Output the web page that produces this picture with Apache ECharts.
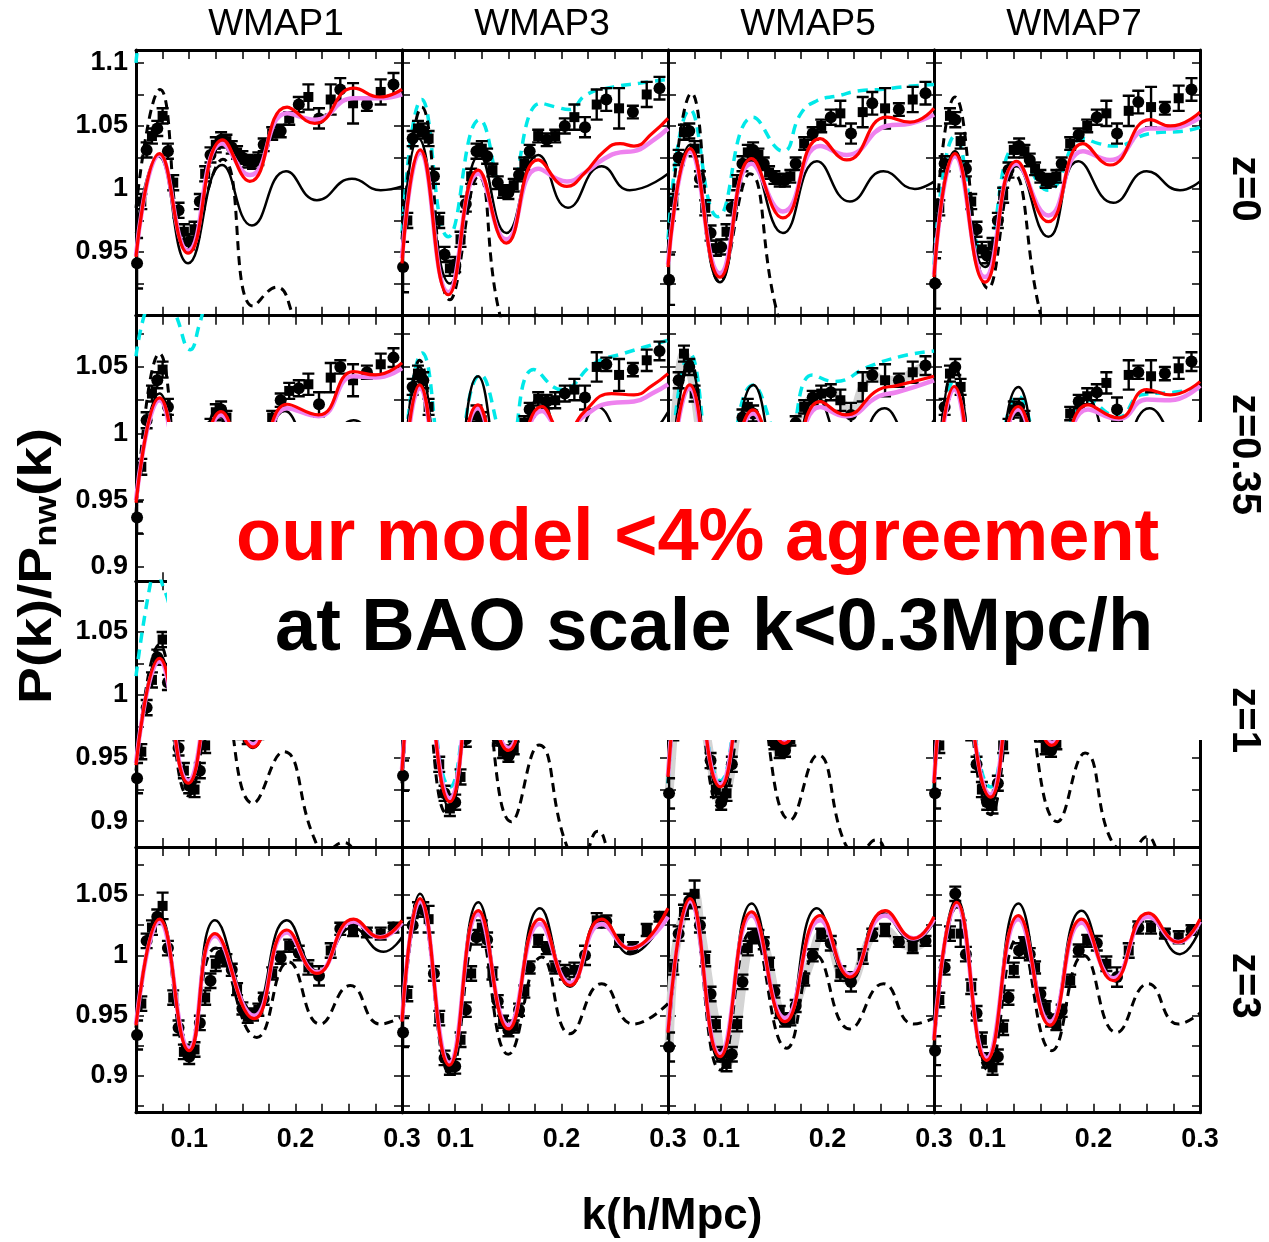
<!DOCTYPE html>
<html><head><meta charset="utf-8">
<script src="https://cdn.jsdelivr.net/npm/echarts@6/dist/echarts.min.js"></script>
<style>html,body{margin:0;padding:0;background:#fff}#c{width:1269px;height:1242px}</style>
</head><body><div id="c"></div><script>
const FONT = '"Liberation Sans", Arial, Helvetica, sans-serif';
const COLS = ['WMAP1','WMAP3','WMAP5','WMAP7'];
const ROWS = ['z=0','z=0.35','z=1','z=3'];
const Y_MIN = [0.8994,0.889,0.8794,0.8696];
const Y_MAX = [1.1103,1.0885,1.0902,1.0898];
const Y_TICKS = [
 [0.9,0.925,0.95,0.975,1,1.025,1.05,1.075,1.1],
 [0.9,0.925,0.95,0.975,1,1.025,1.05,1.075],
 [0.9,0.925,0.95,0.975,1,1.025,1.05,1.075],
 [0.875,0.9,0.925,0.95,0.975,1,1.025,1.05,1.075]];
const Y_LABELS = [[0.95,1,1.05,1.1],[0.9,0.95,1,1.05],[0.9,0.95,1,1.05],[0.9,0.95,1,1.05]];
const X_TICKS = [0.05,0.075,0.1,0.125,0.15,0.175,0.2,0.225,0.25,0.275,0.3];
const X_LABELS = [0.1,0.2,0.3];

// k of the simulation points (shared by all panels)
const K_PTS = [0.051,0.055,0.06,0.065,0.07,0.075,0.08,0.085,0.09,0.095,0.1,0.105,0.11,0.115,0.12,0.125,0.13,0.135,0.14,0.145,0.15,0.155,0.16,0.165,0.17,0.178,0.186,0.194,0.203,0.212,0.222,0.233,0.242,0.254,0.267,0.28,0.292];
// error bar half sizes per row
const ERR_R1 = [0.02,0.006,0.006,0.006,0.006,0.006,0.006,0.006,0.006,0.006,0.006,0.006,0.006,0.006,0.006,0.006,0.006,0.005,0.005,0.005,0.005,0.005,0.005,0.005,0.005,0.005,0.005,0.005,0.006,0.01,0.008,0.012,0.009,0.016,0.005,0.01,0.009];
const ERR_R2 = [0.012,0.006,0.006,0.006,0.006,0.006,0.006,0.006,0.006,0.006,0.006,0.006,0.006,0.006,0.006,0.006,0.006,0.005,0.005,0.005,0.005,0.005,0.005,0.005,0.005,0.005,0.005,0.006,0.006,0.008,0.009,0.011,0.005,0.012,0.005,0.008,0.007];
const ERR_R3 = [0.012,0.006,0.006,0.006,0.006,0.006,0.006,0.006,0.006,0.006,0.006,0.006,0.006,0.006,0.006,0.006,0.006,0.005,0.005,0.005,0.005,0.005,0.005,0.005,0.005,0.005,0.005,0.005,0.006,0.006,0.007,0.006,0.005,0.008,0.005,0.006,0.006];
const ERR_R4 = [0.012,0.006,0.006,0.006,0.006,0.011,0.006,0.006,0.006,0.006,0.006,0.006,0.006,0.006,0.006,0.006,0.006,0.005,0.005,0.005,0.005,0.005,0.005,0.005,0.005,0.005,0.005,0.005,0.006,0.006,0.008,0.006,0.005,0.005,0.004,0.005,0.004];

// simulation points P(k)/Pnw(k)
const PTS_11 = [0.941,0.99,1.031,1.042,1.048,1.058,1.03,1.005,0.983,0.966,0.958,0.968,0.99,1.012,1.027,1.035,1.039,1.038,1.033,1.029,1.025,1.022,1.021,1.024,1.035,1.044,1.046,1.056,1.067,1.073,1.056,1.071,1.079,1.068,1.067,1.077,1.083];
const PTS_12 = [0.938,0.975,1.04,1.048,1.046,1.04,1.01,0.975,0.948,0.937,0.94,0.96,0.988,1.01,1.03,1.032,1.026,1.015,1.005,0.998,0.997,1.003,1.011,1.02,1.03,1.042,1.039,1.042,1.05,1.057,1.049,1.067,1.071,1.064,1.061,1.075,1.08];
const PTS_13 = [0.928,0.99,1.025,1.045,1.046,1.032,1.008,0.985,0.965,0.953,0.954,0.966,0.985,1.005,1.02,1.029,1.031,1.027,1.02,1.013,1.009,1.007,1.007,1.01,1.02,1.036,1.044,1.05,1.057,1.06,1.044,1.061,1.068,1.064,1.063,1.071,1.076];
const PTS_14 = [0.925,0.985,1.02,1.058,1.055,1.038,1.016,0.99,0.968,0.952,0.947,0.955,0.975,0.995,1.015,1.031,1.034,1.03,1.023,1.016,1.01,1.006,1.007,1.01,1.02,1.036,1.043,1.05,1.057,1.06,1.044,1.062,1.069,1.065,1.064,1.072,1.079];
const PTS_21 = [0.937,0.975,1.01,1.03,1.04,1.048,1.02,0.99,0.96,0.94,0.932,0.94,0.96,0.985,1.005,1.016,1.018,1.012,1.0,0.99,0.982,0.978,0.98,0.99,1.002,1.012,1.025,1.032,1.034,1.037,1.022,1.042,1.05,1.04,1.046,1.052,1.057];
const PTS_22 = [0.936,0.98,1.035,1.045,1.04,1.02,0.99,0.955,0.93,0.922,0.93,0.955,0.98,1.005,1.015,1.01,0.995,0.98,0.97,0.965,0.97,0.98,0.995,1.008,1.018,1.026,1.024,1.025,1.03,1.033,1.027,1.05,1.052,1.044,1.048,1.055,1.062];
const PTS_23 = [0.925,0.99,1.04,1.06,1.05,1.03,1.0,0.965,0.94,0.93,0.928,0.945,0.97,0.995,1.012,1.02,1.015,1.0,0.985,0.975,0.97,0.972,0.982,0.995,1.008,1.02,1.027,1.03,1.031,1.025,1.014,1.035,1.044,1.04,1.04,1.046,1.051];
const PTS_24 = [0.92,0.975,1.02,1.045,1.05,1.035,1.0,0.965,0.935,0.92,0.915,0.93,0.955,0.985,1.005,1.018,1.02,1.012,1.0,0.99,0.98,0.975,0.978,0.988,1.0,1.015,1.024,1.028,1.031,1.038,1.018,1.044,1.046,1.043,1.045,1.049,1.054];
const PTS_31 = [0.934,0.955,0.99,1.012,1.03,1.044,1.01,0.975,0.958,0.94,0.928,0.925,0.94,0.96,0.98,1.0,1.012,1.01,1.0,0.985,0.97,0.966,0.966,0.97,0.985,1.0,1.012,1.02,1.02,1.012,1.005,1.02,1.035,1.035,1.03,1.035,1.04];
const PTS_32 = [0.936,0.975,1.02,1.04,1.035,1.01,0.975,0.945,0.922,0.91,0.915,0.935,0.965,0.995,1.015,1.02,1.005,0.985,0.965,0.955,0.952,0.958,0.972,0.99,1.005,1.02,1.015,1.0,0.992,0.995,1.005,1.025,1.03,1.02,1.015,1.025,1.035];
const PTS_33 = [0.922,0.97,1.02,1.045,1.05,1.035,1.005,0.975,0.948,0.925,0.915,0.922,0.945,0.975,1.0,1.02,1.025,1.015,0.995,0.975,0.962,0.955,0.956,0.965,0.985,1.005,1.02,1.025,1.015,1.0,0.998,1.015,1.03,1.035,1.025,1.025,1.035];
const PTS_34 = [0.922,0.96,1.0,1.035,1.05,1.03,1.0,0.97,0.945,0.925,0.915,0.912,0.93,0.96,0.99,1.012,1.025,1.02,1.005,0.985,0.968,0.958,0.956,0.962,0.978,1.0,1.018,1.025,1.02,1.005,0.998,1.015,1.03,1.035,1.028,1.03,1.035];
const PTS_41 = [0.934,0.96,1.012,1.023,1.032,1.041,1.006,0.965,0.94,0.92,0.916,0.922,0.944,0.965,0.979,0.993,1.0,0.996,0.988,0.972,0.956,0.949,0.951,0.955,0.964,0.985,0.998,1.008,1.002,0.99,0.983,1.004,1.022,1.021,1.019,1.018,1.023];
const PTS_42 = [0.936,0.968,1.025,1.038,1.038,1.03,0.985,0.948,0.915,0.907,0.908,0.93,0.955,0.985,1.015,1.023,1.013,0.985,0.962,0.945,0.938,0.941,0.955,0.97,0.99,1.012,1.006,0.99,0.986,0.988,1.0,1.029,1.028,1.012,1.007,1.021,1.032];
const PTS_43 = [0.924,0.99,1.018,1.036,1.045,1.051,1.025,0.997,0.968,0.943,0.918,0.91,0.918,0.943,0.978,1.006,1.016,1.016,1.01,0.993,0.97,0.953,0.946,0.947,0.958,0.98,1.0,1.017,1.01,0.985,0.978,0.999,1.017,1.021,1.011,1.007,1.012];
const PTS_44 = [0.921,0.963,0.99,1.018,1.051,1.018,1.001,0.974,0.952,0.93,0.913,0.907,0.916,0.94,0.965,0.988,1.004,1.01,1.001,0.99,0.968,0.957,0.946,0.943,0.954,0.979,1.004,1.012,1.01,0.993,0.982,1.004,1.023,1.023,1.018,1.015,1.021];

// model curves [k, P/Pnw]
const RED_11 = [[0.05,0.946],[0.072,1.028],[0.099,0.949],[0.1316,1.039],[0.157,1.006],[0.192,1.065],[0.218,1.052],[0.2545,1.08],[0.279,1.073],[0.3,1.079]];
const MAG_11 = [[0.05,0.947],[0.072,1.027],[0.099,0.951],[0.131,1.036],[0.157,1.011],[0.192,1.06],[0.218,1.055],[0.2545,1.072],[0.279,1.072],[0.3,1.075]];
const BLK_11 = [[0.05,0.965],[0.071,1.026],[0.099,0.941],[0.131,1.019],[0.159,0.971],[0.191,1.014],[0.22,0.991],[0.253,1.008],[0.28,0.999],[0.3,1.002]];
const DSH_11 = [[0.05,0.985],[0.0726,1.079],[0.098,0.955],[0.1316,1.0235],[0.16,0.907],[0.182,0.922],[0.2,0.895],[0.22,0.86],[0.26,0.85],[0.3,0.84]];
const CYN_11 = [[0.05,1.1],[0.056,1.13],[0.07,1.16],[0.1,1.14],[0.13,1.17],[0.16,1.15],[0.2,1.17],[0.25,1.18],[0.3,1.18]];

const RED_12 = [[0.05,0.941],[0.067,1.031],[0.0935,0.916],[0.1217,1.015],[0.148,0.957],[0.178,1.023],[0.205,1.002],[0.222,1.013],[0.24,1.03],[0.255,1.036],[0.268,1.034],[0.285,1.044],[0.3,1.056]];
const MAG_12 = [[0.05,0.945],[0.067,1.029],[0.0935,0.918],[0.1217,1.012],[0.148,0.96],[0.178,1.016],[0.205,1.006],[0.222,1.013],[0.24,1.024],[0.255,1.029],[0.268,1.03],[0.285,1.038],[0.3,1.048]];
const BLK_12 = [[0.05,0.95],[0.0654,1.04],[0.095,0.925],[0.123,1.027],[0.148,0.965],[0.178,1.027],[0.206,0.985],[0.2376,1.018],[0.264,0.999],[0.3,1.012]];
const DSH_12 = [[0.05,0.96],[0.0685,1.065],[0.095,0.912],[0.1217,1.01],[0.142,0.9],[0.16,0.875],[0.176,0.9],[0.195,0.87],[0.23,0.85],[0.3,0.84]];
const CYN_12 = [[0.05,0.965],[0.0685,1.071],[0.0935,0.962],[0.123,1.055],[0.148,0.994],[0.18,1.068],[0.195,1.065],[0.207,1.063],[0.2235,1.075],[0.249,1.081],[0.274,1.084],[0.3,1.087]];

const RED_13 = [[0.05,0.938],[0.0707,1.032],[0.0989,0.93],[0.1286,1.024],[0.158,0.977],[0.193,1.04],[0.218,1.023],[0.2555,1.057],[0.2775,1.053],[0.3,1.064]];
const MAG_13 = [[0.05,0.94],[0.0707,1.03],[0.0989,0.933],[0.1286,1.02],[0.158,0.982],[0.193,1.034],[0.218,1.027],[0.2555,1.05],[0.278,1.052],[0.3,1.059]];
const BLK_13 = [[0.05,0.94],[0.0707,1.035],[0.0989,0.926],[0.1286,1.022],[0.158,0.965],[0.19,1.022],[0.221,0.99],[0.2525,1.014],[0.282,1.0],[0.3,1.006]];
const DSH_13 = [[0.05,0.95],[0.072,1.076],[0.0989,0.926],[0.127,1.012],[0.152,0.904],[0.17,0.87],[0.2,0.85],[0.3,0.84]];
const CYN_13 = [[0.05,0.96],[0.0707,1.063],[0.097,0.978],[0.13,1.057],[0.158,1.03],[0.175,1.06],[0.19,1.07],[0.21,1.074],[0.23,1.078],[0.25,1.079],[0.27,1.081],[0.3,1.083]];

const RED_14 = [[0.05,0.93],[0.0697,1.028],[0.098,0.926],[0.1277,1.022],[0.1575,0.974],[0.19,1.036],[0.2154,1.019],[0.253,1.055],[0.272,1.05],[0.3,1.061]];
const MAG_14 = [[0.05,0.932],[0.0697,1.026],[0.098,0.93],[0.1277,1.02],[0.1575,0.979],[0.19,1.03],[0.2154,1.023],[0.253,1.048],[0.272,1.048],[0.3,1.057]];
const BLK_14 = [[0.05,0.93],[0.0697,1.03],[0.098,0.938],[0.1277,1.018],[0.1575,0.962],[0.1856,1.022],[0.2185,0.989],[0.2499,1.014],[0.2812,0.999],[0.3,1.006]];
const DSH_14 = [[0.05,0.95],[0.0697,1.073],[0.101,0.921],[0.1246,1.012],[0.15,0.901],[0.165,0.87],[0.2,0.85],[0.3,0.84]];
const CYN_14 = [[0.05,0.94],[0.0697,1.042],[0.098,0.946],[0.1277,1.034],[0.1575,0.999],[0.19,1.04],[0.205,1.036],[0.22,1.034],[0.253,1.044],[0.285,1.046],[0.3,1.049]];

const RED_21 = [[0.05,0.948],[0.072,1.0267],[0.1,0.935],[0.13,1.0165],[0.16,0.96],[0.192,1.022],[0.2216,1.014],[0.2545,1.0465],[0.275,1.044],[0.3,1.053]];
const MAG_21 = [[0.05,0.95],[0.072,1.025],[0.1,0.937],[0.13,1.014],[0.16,0.962],[0.192,1.019],[0.2216,1.013],[0.2545,1.043],[0.275,1.042],[0.3,1.049]];
const BLK_21 = [[0.05,0.95],[0.072,1.03],[0.1,0.93],[0.128,1.02],[0.16,0.955],[0.19,1.017],[0.222,0.98],[0.2545,1.01],[0.285,0.99],[0.3,0.995]];
const DSH_21 = [[0.05,0.94],[0.072,1.06],[0.1,0.93],[0.128,1.0],[0.16,0.9],[0.19,0.93],[0.22,0.87],[0.3,0.85]];
const CYN_21 = [[0.05,1.058],[0.0575,1.088],[0.072,1.12],[0.088,1.088],[0.101,1.063],[0.11,1.083],[0.125,1.12],[0.16,1.1],[0.2,1.12],[0.3,1.13]];

const RED_22 = [[0.05,0.945],[0.0665,1.0365],[0.094,0.918],[0.1214,1.0215],[0.149,0.955],[0.1816,1.0203],[0.203,0.998],[0.221,1.016],[0.247,1.03],[0.268,1.029],[0.285,1.036],[0.3,1.045]];
const MAG_22 = [[0.05,0.946],[0.0665,1.034],[0.094,0.92],[0.1214,1.019],[0.149,0.957],[0.1816,1.017],[0.203,1.0],[0.221,1.013],[0.247,1.023],[0.268,1.024],[0.285,1.03],[0.3,1.037]];
const BLK_22 = [[0.05,0.945],[0.0665,1.05],[0.094,0.91],[0.1214,1.043],[0.15,0.945],[0.18,1.028],[0.207,0.975],[0.234,1.02],[0.265,0.99],[0.3,1.016]];
const DSH_22 = [[0.05,0.94],[0.0665,1.055],[0.094,0.905],[0.12,1.0],[0.15,0.9],[0.179,0.955],[0.205,0.88],[0.234,0.888],[0.26,0.86],[0.3,0.85]];
const CYN_22 = [[0.05,0.96],[0.069,1.0605],[0.095,0.95],[0.124,1.044],[0.15,0.99],[0.1738,1.048],[0.2,1.033],[0.2314,1.053],[0.2575,1.06],[0.3,1.07]];

const RED_23 = [[0.05,0.94],[0.0704,1.0365],[0.099,0.93],[0.1302,1.0177],[0.16,0.96],[0.193,1.024],[0.217,1.014],[0.248,1.033],[0.265,1.036],[0.3,1.043]];
const MAG_23 = [[0.05,0.941],[0.0704,1.034],[0.099,0.932],[0.1302,1.015],[0.16,0.962],[0.193,1.02],[0.217,1.013],[0.248,1.028],[0.265,1.031],[0.3,1.04]];
const BLK_23 = [[0.05,0.94],[0.0704,1.05],[0.099,0.92],[0.1302,1.0365],[0.16,0.95],[0.19,1.027],[0.221,0.98],[0.2535,1.019],[0.28,0.995],[0.3,1.01]];
const DSH_23 = [[0.05,0.93],[0.0704,1.055],[0.099,0.91],[0.128,1.0],[0.165,0.9],[0.191,0.95],[0.217,0.88],[0.245,0.885],[0.27,0.86],[0.3,0.85]];
const CYN_23 = [[0.05,0.95],[0.0704,1.06],[0.099,0.94],[0.1302,1.0365],[0.16,0.99],[0.1856,1.044],[0.2065,1.039],[0.238,1.05],[0.2694,1.058],[0.3,1.062]];

const RED_24 = [[0.05,0.93],[0.069,1.0353],[0.099,0.92],[0.1293,1.0203],[0.16,0.955],[0.1947,1.0215],[0.2235,1.0117],[0.25,1.033],[0.272,1.029],[0.3,1.039]];
const MAG_24 = [[0.05,0.931],[0.069,1.033],[0.099,0.922],[0.1293,1.018],[0.16,0.957],[0.1947,1.018],[0.2235,1.011],[0.25,1.0255],[0.272,1.025],[0.3,1.036]];
const BLK_24 = [[0.05,0.93],[0.069,1.05],[0.099,0.912],[0.1293,1.035],[0.16,0.945],[0.1947,1.026],[0.222,0.98],[0.2525,1.019],[0.282,0.995],[0.3,1.01]];
const DSH_24 = [[0.05,0.93],[0.069,1.05],[0.1,0.905],[0.128,1.0],[0.166,0.9],[0.192,0.954],[0.218,0.8825],[0.25,0.8876],[0.275,0.86],[0.3,0.85]];
const CYN_24 = [[0.05,0.93],[0.069,1.04],[0.099,0.93],[0.1293,1.028],[0.16,0.97],[0.1947,1.025],[0.2235,1.0125],[0.245,1.029],[0.275,1.031],[0.3,1.034]];

const RED_31 = [[0.05,0.9444],[0.072,1.029],[0.0992,0.93],[0.128,1.02],[0.16,0.9587],[0.19,1.025],[0.22,0.99],[0.254,1.03],[0.28,1.015],[0.3,1.03]];
const MAG_31 = [[0.05,0.946],[0.072,1.027],[0.0992,0.932],[0.128,1.018],[0.16,0.961],[0.19,1.022],[0.22,0.991],[0.254,1.027],[0.28,1.015],[0.3,1.028]];
const BLK_31 = [[0.05,0.944],[0.072,1.032],[0.0992,0.928],[0.128,1.03],[0.16,0.958],[0.19,1.03],[0.22,0.985],[0.254,1.022],[0.283,1.003],[0.3,1.012]];
const DSH_31 = [[0.05,0.94],[0.072,1.04],[0.0992,0.92],[0.128,1.01],[0.16,0.914],[0.1886,0.955],[0.2169,0.8875],[0.228,0.876],[0.245,0.883],[0.26,0.872],[0.3,0.85]];
const CYN_31 = [[0.05,1.015],[0.063,1.086],[0.069,1.1],[0.076,1.085],[0.09,1.06],[0.1,1.07],[0.13,1.1],[0.2,1.1],[0.3,1.1]];

const RED_32 = [[0.05,0.94],[0.067,1.04],[0.095,0.9153],[0.122,1.03],[0.15,0.956],[0.179,1.025],[0.207,0.98],[0.237,1.025],[0.264,1.005],[0.3,1.035]];
const MAG_32 = [[0.05,0.941],[0.067,1.038],[0.095,0.918],[0.122,1.028],[0.15,0.958],[0.179,1.022],[0.207,0.982],[0.237,1.022],[0.264,1.006],[0.3,1.032]];
const BLK_32 = [[0.05,0.94],[0.067,1.048],[0.095,0.91],[0.122,1.04],[0.15,0.947],[0.179,1.035],[0.207,0.975],[0.237,1.03],[0.264,1.0],[0.3,1.03]];
const DSH_32 = [[0.05,0.93],[0.067,1.045],[0.092,0.906],[0.122,1.015],[0.1528,0.8995],[0.1788,0.9603],[0.205,0.88],[0.219,0.873],[0.234,0.892],[0.25,0.87],[0.3,0.85]];
const CYN_32 = [[0.05,0.94],[0.067,1.045],[0.095,0.927],[0.122,1.035],[0.15,0.965],[0.179,1.04],[0.207,1.0],[0.24,1.045],[0.3,1.05]];

const RED_33 = [[0.05,0.935],[0.07,1.042],[0.0992,0.9272],[0.129,1.03],[0.1594,0.9617],[0.191,1.03],[0.221,0.99],[0.253,1.035],[0.28,1.015],[0.3,1.035]];
const MAG_33 = [[0.05,0.936],[0.07,1.04],[0.0992,0.929],[0.129,1.027],[0.1594,0.963],[0.191,1.027],[0.221,0.991],[0.253,1.031],[0.28,1.015],[0.3,1.032]];
const BLK_33 = [[0.05,0.935],[0.07,1.05],[0.0992,0.922],[0.129,1.04],[0.1594,0.955],[0.19,1.035],[0.221,0.985],[0.253,1.03],[0.282,1.005],[0.3,1.02]];
const DSH_33 = [[0.05,0.93],[0.07,1.05],[0.0992,0.91],[0.129,1.015],[0.1647,0.9008],[0.1908,0.9524],[0.217,0.881],[0.23,0.876],[0.2455,0.885],[0.26,0.87],[0.3,0.85]];
const CYN_33 = [[0.05,0.93],[0.07,1.05],[0.0992,0.932],[0.129,1.04],[0.16,0.975],[0.19,1.045],[0.22,1.02],[0.25,1.05],[0.3,1.055]];

const RED_34 = [[0.05,0.93],[0.07,1.042],[0.1031,0.919],[0.13,1.03],[0.1607,0.96],[0.19,1.028],[0.22,0.988],[0.252,1.033],[0.28,1.013],[0.3,1.033]];
const MAG_34 = [[0.05,0.931],[0.07,1.04],[0.1031,0.921],[0.13,1.027],[0.1607,0.962],[0.19,1.025],[0.22,0.989],[0.252,1.03],[0.28,1.013],[0.3,1.03]];
const BLK_34 = [[0.05,0.93],[0.07,1.05],[0.1031,0.914],[0.13,1.04],[0.1607,0.954],[0.19,1.034],[0.22,0.984],[0.252,1.03],[0.282,1.003],[0.3,1.02]];
const DSH_34 = [[0.05,0.925],[0.07,1.05],[0.103,0.905],[0.13,1.015],[0.166,0.8995],[0.192,0.954],[0.218,0.8825],[0.235,0.877],[0.25,0.8876],[0.265,0.87],[0.3,0.85]];
const CYN_34 = [[0.05,0.925],[0.07,1.045],[0.1031,0.927],[0.13,1.035],[0.1607,0.97],[0.19,1.035],[0.22,1.0],[0.25,1.04],[0.3,1.045]];

const RED_41 = [[0.05,0.942],[0.072,1.03],[0.1,0.921],[0.1243,1.018],[0.161,0.9475],[0.1918,1.021],[0.22,0.985],[0.2545,1.03],[0.2796,1.015],[0.3,1.029]];
const MAG_41 = [[0.05,0.943],[0.072,1.028],[0.1,0.923],[0.1243,1.016],[0.161,0.95],[0.1918,1.019],[0.22,0.986],[0.2545,1.028],[0.2796,1.015],[0.3,1.027]];
const BLK_41 = [[0.05,0.94],[0.072,1.033],[0.1,0.923],[0.1243,1.029],[0.16,0.953],[0.1918,1.029],[0.221,0.987],[0.2535,1.023],[0.2827,1.003],[0.3,1.015]];
const DSH_41 = [[0.05,0.94],[0.072,1.03],[0.0992,0.918],[0.125,1.006],[0.1636,0.932],[0.1934,0.9945],[0.2231,0.943],[0.2514,0.975],[0.2796,0.943],[0.3,0.949]];

const RED_42 = [[0.05,0.945],[0.0669,1.047],[0.0945,0.909],[0.1217,1.037],[0.15,0.939],[0.1797,1.03],[0.2079,0.975],[0.2377,1.03],[0.2643,1.0055],[0.3,1.039]];
const MAG_42 = [[0.05,0.946],[0.0669,1.045],[0.0945,0.911],[0.1217,1.034],[0.15,0.942],[0.1797,1.026],[0.2079,0.977],[0.2377,1.026],[0.2643,1.006],[0.3,1.032]];
const BLK_42 = [[0.05,0.945],[0.0669,1.051],[0.0945,0.905],[0.1217,1.044],[0.15,0.936],[0.1797,1.039],[0.2079,0.974],[0.2377,1.032],[0.2643,1.001],[0.3,1.036]];
const DSH_42 = [[0.05,0.94],[0.0669,1.04],[0.095,0.902],[0.1217,1.021],[0.1499,0.918],[0.1813,0.9986],[0.2079,0.935],[0.2377,0.9765],[0.2675,0.943],[0.3,0.96]];

const RED_43 = [[0.05,0.936],[0.0707,1.047],[0.0989,0.916],[0.1286,1.036],[0.16,0.945],[0.193,1.033],[0.221,0.982],[0.254,1.037],[0.281,1.014],[0.3,1.032]];
const MAG_43 = [[0.05,0.937],[0.0707,1.045],[0.0989,0.918],[0.1286,1.033],[0.16,0.948],[0.193,1.029],[0.221,0.984],[0.254,1.033],[0.281,1.014],[0.3,1.03]];
const BLK_43 = [[0.05,0.935],[0.0707,1.051],[0.0989,0.912],[0.1286,1.043],[0.16,0.942],[0.19,1.039],[0.221,0.979],[0.252,1.035],[0.281,1.012],[0.3,1.028]];
const DSH_43 = [[0.05,0.93],[0.0707,1.045],[0.0989,0.905],[0.1286,1.02],[0.1615,0.923],[0.189,1.0],[0.221,0.939],[0.2525,0.9765],[0.2808,0.943],[0.3,0.948]];

const RED_44 = [[0.05,0.9296],[0.0713,1.044],[0.0995,0.913],[0.1293,1.033],[0.159,0.942],[0.1888,1.03],[0.2185,0.979],[0.2514,1.035],[0.2796,1.011],[0.3,1.03]];
const MAG_44 = [[0.05,0.931],[0.0713,1.042],[0.0995,0.915],[0.1293,1.03],[0.159,0.945],[0.1888,1.027],[0.2185,0.981],[0.2514,1.032],[0.2796,1.011],[0.3,1.028]];
const BLK_44 = [[0.05,0.93],[0.0713,1.047],[0.0995,0.91],[0.1293,1.043],[0.159,0.945],[0.1888,1.037],[0.2185,0.982],[0.2514,1.032],[0.2812,1.001],[0.3,1.022]];
const DSH_44 = [[0.05,0.925],[0.0713,1.04],[0.101,0.905],[0.1293,1.015],[0.1606,0.921],[0.1905,1.0],[0.2216,0.936],[0.2514,0.9765],[0.2796,0.943],[0.3,0.952]];

const PANELS = [
 [{pts:PTS_11,err:ERR_R1,red:RED_11,mag:MAG_11,blk:BLK_11,dsh:DSH_11,cyn:CYN_11},
  {pts:PTS_12,err:ERR_R1,red:RED_12,mag:MAG_12,blk:BLK_12,dsh:DSH_12,cyn:CYN_12},
  {pts:PTS_13,err:ERR_R1,red:RED_13,mag:MAG_13,blk:BLK_13,dsh:DSH_13,cyn:CYN_13},
  {pts:PTS_14,err:ERR_R1,red:RED_14,mag:MAG_14,blk:BLK_14,dsh:DSH_14,cyn:CYN_14}],
 [{pts:PTS_21,err:ERR_R2,red:RED_21,mag:MAG_21,blk:BLK_21,dsh:DSH_21,cyn:CYN_21},
  {pts:PTS_22,err:ERR_R2,red:RED_22,mag:MAG_22,blk:BLK_22,dsh:DSH_22,cyn:CYN_22},
  {pts:PTS_23,err:ERR_R2,red:RED_23,mag:MAG_23,blk:BLK_23,dsh:DSH_23,cyn:CYN_23,band:true},
  {pts:PTS_24,err:ERR_R2,red:RED_24,mag:MAG_24,blk:BLK_24,dsh:DSH_24,cyn:CYN_24}],
 [{pts:PTS_31,err:ERR_R3,red:RED_31,mag:MAG_31,blk:BLK_31,dsh:DSH_31,cyn:CYN_31},
  {pts:PTS_32,err:ERR_R3,red:RED_32,mag:MAG_32,blk:BLK_32,dsh:DSH_32,cyn:CYN_32},
  {pts:PTS_33,err:ERR_R3,red:RED_33,mag:MAG_33,blk:BLK_33,dsh:DSH_33,cyn:CYN_33,band:true},
  {pts:PTS_34,err:ERR_R3,red:RED_34,mag:MAG_34,blk:BLK_34,dsh:DSH_34,cyn:CYN_34}],
 [{pts:PTS_41,err:ERR_R4,red:RED_41,mag:MAG_41,blk:BLK_41,dsh:DSH_41},
  {pts:PTS_42,err:ERR_R4,red:RED_42,mag:MAG_42,blk:BLK_42,dsh:DSH_42},
  {pts:PTS_43,err:ERR_R4,red:RED_43,mag:MAG_43,blk:BLK_43,dsh:DSH_43,band:true},
  {pts:PTS_44,err:ERR_R4,red:RED_44,mag:MAG_44,blk:BLK_44,dsh:DSH_44}]
];

const L = 136, T = 50, W = 266, H = 265.67;
const grids = [], xAxes = [], yAxes = [], series = [];
const fmt = v => String(+(+v).toFixed(3));
const lbl = {fontSize:27, fontWeight:'bold', color:'#000', fontFamily:FONT};
const axLine = {show:true, lineStyle:{color:'#000', width:3}};

function renderErr(params, api) {
  const x = api.value(0), lo = api.value(1), hi = api.value(2);
  const a = api.coord([x, lo]), b = api.coord([x, hi]);
  const w = 6, st = {stroke:'#000', lineWidth:2.4};
  return {type:'group', children:[
    {type:'line', shape:{x1:a[0], y1:a[1], x2:b[0], y2:b[1]}, style:st},
    {type:'line', shape:{x1:a[0]-w, y1:a[1], x2:a[0]+w, y2:a[1]}, style:st},
    {type:'line', shape:{x1:b[0]-w, y1:b[1], x2:b[0]+w, y2:b[1]}, style:st}
  ]};
}
function lineS(data, color, width, type, z, xi, yi) {
  return {type:'line', xAxisIndex:xi, yAxisIndex:yi, data:data, showSymbol:false, symbol:'none',
    smooth:0.5, lineStyle:{color:color, width:width, type:type, cap:'butt', opacity:1}, z:z, silent:true, clip:true};
}

PANELS.forEach((row, r) => row.forEach((p, c) => {
  const gi = grids.length;
  grids.push({left:L + c*W, top:T + r*H, width:W, height:H, show:false});
  const xi = xAxes.length, yi = yAxes.length;
  const xt = {show:true, inside:true, length:9, lineStyle:{color:'#000', width:1.5}, customValues:X_TICKS};
  const yt = {show:true, inside:true, length:8, lineStyle:{color:'#000', width:1.5}, customValues:Y_TICKS[r]};
  xAxes.push({gridIndex:gi, type:'value', min:0.05, max:0.3, interval:0.025, position:'bottom',
    axisLine:axLine, axisTick:xt, splitLine:{show:false},
    axisLabel:Object.assign({show:r===3, customValues:X_LABELS, formatter:fmt, margin:13}, lbl)});
  xAxes.push({gridIndex:gi, type:'value', min:0.05, max:0.3, interval:0.025, position:'top',
    axisLine:axLine, axisTick:xt, splitLine:{show:false}, axisLabel:{show:false}});
  yAxes.push({gridIndex:gi, type:'value', min:Y_MIN[r], max:Y_MAX[r], position:'left',
    axisLine:axLine, axisTick:yt, splitLine:{show:false},
    axisLabel:Object.assign({show:c===0, customValues:Y_LABELS[r], formatter:fmt, margin:8}, lbl)});
  yAxes.push({gridIndex:gi, type:'value', min:Y_MIN[r], max:Y_MAX[r], position:'right',
    axisLine:axLine, axisTick:yt, splitLine:{show:false}, axisLabel:{show:false}});

  const pts = K_PTS.map((k, i) => [k, p.pts[i]]);
  if (p.band) {
    series.push({type:'line', xAxisIndex:xi, yAxisIndex:yi, data:pts, showSymbol:false, symbol:'none', smooth:0.4,
      lineStyle:{color:'#d4d4d4', width:9}, z:1, silent:true, clip:true});
  }
  if (p.cyn) series.push(lineS(p.cyn, '#00e8e8', 3.5, [10,7], 2, xi, yi));
  series.push(lineS(p.dsh, '#000', 3, [9,6], 3, xi, yi));
  series.push(lineS(p.blk, '#000', 2.5, 'solid', 3, xi, yi));
  series.push({type:'custom', xAxisIndex:xi, yAxisIndex:yi, renderItem:renderErr, silent:true, clip:true, z:4,
    data:K_PTS.map((k, i) => [k, p.pts[i] - p.err[i], p.pts[i] + p.err[i]])});
  series.push({type:'scatter', xAxisIndex:xi, yAxisIndex:yi, data:pts, silent:true, z:5,
    symbol:(v, prm) => (prm.dataIndex % 2 ? 'rect' : 'circle'),
    symbolSize:(v, prm) => (prm.dataIndex % 2 ? 10 : 12),
    itemStyle:{color:'#000', opacity:1}});
  series.push(lineS(p.mag, '#ee82ee', 4.5, 'solid', 6, xi, yi));
  series.push(lineS(p.red, '#ff0000', 3.2, 'solid', 7, xi, yi));
}));

const graphic = [];
COLS.forEach((t, c) => graphic.push({type:'text', x:L + c*W + W/2 + 7, y:25, z:50,
  style:{text:t, fontSize:37, fontFamily:FONT, fill:'#000', textAlign:'center', textVerticalAlign:'middle'}}));
ROWS.forEach((t, r) => graphic.push({type:'text', x:1244, y:T + r*H + H/2 + 6, rotation:-Math.PI/2, z:50,
  style:{text:t, fontSize:40, fontWeight:'bold', fontFamily:FONT, fill:'#000', textAlign:'center', textVerticalAlign:'middle'}}));
graphic.push({type:'text', x:38, y:566, rotation:Math.PI/2, scaleX:1.18, z:50,
  style:{text:'{a|P(k)/P}{b|nw}{a|(k)}', textAlign:'center', textVerticalAlign:'middle',
    rich:{a:{fontSize:47, fontWeight:'bold', fontFamily:FONT, fill:'#000', lineHeight:50},
          b:{fontSize:31, fontWeight:'bold', fontFamily:FONT, fill:'#000', lineHeight:22, verticalAlign:'bottom'}}}});
graphic.push({type:'text', x:672, y:1217, z:50,
  style:{text:'k(h/Mpc)', fontSize:44, fontWeight:'bold', fontFamily:FONT, fill:'#000', textAlign:'center', textVerticalAlign:'middle'}});
graphic.push({type:'rect', z:100, shape:{x:167, y:422, width:1065, height:318}, style:{fill:'#fff'}});
graphic.push({type:'text', x:236, y:540, z:101,
  style:{text:'our model <4% agreement', fontSize:74, fontWeight:'bold', fontFamily:FONT, fill:'#ff0000', textAlign:'left', textVerticalAlign:'middle'}});
graphic.push({type:'text', x:275, y:630, z:101,
  style:{text:'at BAO scale k<0.3Mpc/h', fontSize:74, fontWeight:'bold', fontFamily:FONT, fill:'#000', textAlign:'left', textVerticalAlign:'middle'}});

const chart = echarts.init(document.getElementById('c'), null, {renderer:'canvas'});
chart.setOption({animation:false, backgroundColor:'#fff', grid:grids, xAxis:xAxes, yAxis:yAxes, series:series, graphic:graphic});
</script></body></html>
